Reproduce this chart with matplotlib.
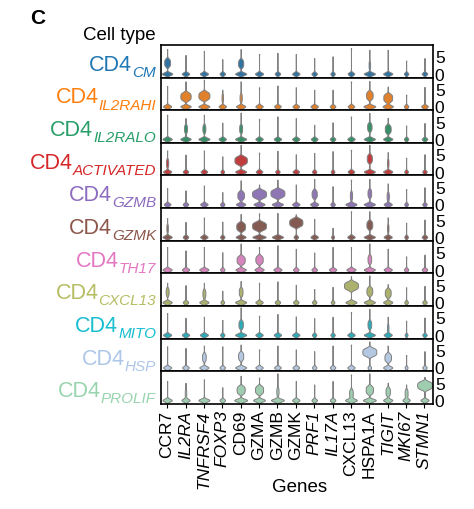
#!/usr/bin/env python

import colorsys

import matplotlib
matplotlib.use('Agg')
import matplotlib.colors as mcolors
import matplotlib.pyplot as plt
import numpy as np


GENES = ['CCR7', 'IL2RA', 'TNFRSF4', 'FOXP3', 'CD69', 'GZMA', 'GZMB',
         'GZMK', 'PRF1', 'IL17A', 'CXCL13', 'HSPA1A', 'TIGIT', 'MKI67',
         'STMN1']
ITALIC_GENES = ['IL2RA', 'TNFRSF4', 'FOXP3', 'PRF1', 'IL17A', 'TIGIT',
                'MKI67', 'STMN1']
CELL_TYPES = ['CM', 'IL2RAHI', 'IL2RALO', 'ACTIVATED', 'GZMB', 'GZMK',
              'TH17', 'CXCL13', 'MITO', 'HSP', 'PROLIF']
COLORS = ['#1f77b4', '#ff7f0e', '#279e68', '#d62728', '#8c6bc0', '#8c564b',
          '#e377c2', '#b5bd61', '#17becf', '#aec7e8', '#98d4ae']

# max expression per cell type (rows) and gene (columns)
TOP = [
    [7.1, 5.4, 6.6, 4.2, 7.1, 5.7, 6.0, 5.7, 4.5, 5.0, 7.4, 6.9, 6.9, 3.8, 4.5],
    [5.9, 7.2, 7.7, 4.8, 7.2, 5.5, 6.0, 5.5, 4.8, 4.8, 7.2, 7.3, 5.7, 3.4, 5.6],
    [7.0, 6.0, 7.0, 4.7, 7.6, 5.8, 6.5, 6.0, 4.1, 4.8, 6.5, 7.5, 6.1, 3.9, 4.6],
    [6.1, 4.9, 6.1, 4.4, 7.7, 5.5, 6.0, 5.0, 5.4, 5.9, 6.3, 7.7, 5.6, 4.0, 5.0],
    [4.7, 4.0, 5.4, 3.5, 6.9, 5.7, 7.1, 5.7, 7.3, 5.2, 7.1, 7.3, 6.0, 4.4, 4.9],
    [5.4, 4.3, 5.6, 4.4, 6.6, 6.8, 6.9, 6.5, 5.2, 2.6, 7.4, 7.4, 5.6, 4.1, 5.0],
    [6.5, 5.5, 6.5, 5.0, 7.5, 6.5, 7.0, 6.0, 4.9, 6.5, 6.5, 7.5, 6.0, 3.8, 4.3],
    [5.6, 4.9, 5.6, 3.3, 6.1, 5.6, 6.0, 5.0, 3.8, 4.4, 7.5, 7.7, 5.2, 4.3, 4.7],
    [6.3, 4.9, 5.2, 4.3, 7.9, 5.5, 6.0, 5.3, 4.8, 5.2, 6.6, 7.5, 5.2, 4.1, 5.0],
    [6.1, 5.6, 6.3, 6.1, 6.6, 5.2, 6.3, 5.2, 4.7, 6.3, 6.6, 7.5, 6.3, 3.6, 4.7],
    [5.5, 5.0, 6.0, 3.7, 7.0, 6.5, 7.7, 5.5, 4.5, 5.5, 7.4, 7.7, 5.0, 4.5, 6.7],
]

# half width of the bulge at zero
ZERO_W = [
    [.28, .20, .22, .15, .30, .22, .15, .20, .15, .12, .18, .30, .25, .12, .15],
    [.22, .28, .30, .20, .25, .20, .18, .18, .20, .15, .18, .32, .28, .12, .18],
    [.25, .28, .30, .20, .30, .20, .20, .20, .18, .15, .20, .30, .25, .12, .15],
    [.22, .15, .18, .10, .30, .18, .12, .18, .12, .10, .18, .30, .25, .10, .12],
    [.18, .15, .20, .12, .25, .30, .30, .20, .22, .12, .30, .30, .22, .10, .12],
    [.25, .15, .20, .12, .27, .36, .30, .12, .20, .08, .20, .30, .22, .10, .15],
    [.25, .20, .25, .12, .28, .25, .22, .15, .15, .20, .25, .30, .22, .12, .15],
    [.25, .15, .25, .10, .30, .20, .15, .15, .12, .10, .30, .30, .25, .10, .12],
    [.22, .20, .22, .12, .30, .20, .20, .20, .12, .12, .20, .30, .22, .08, .12],
    [.22, .18, .25, .15, .30, .20, .18, .18, .12, .15, .20, .10, .25, .08, .12],
    [.25, .22, .30, .15, .35, .32, .35, .20, .15, .15, .32, .35, .25, .20, .22],
]

# centre of the expressing population (0 = none)
MID = [
    [3.2, 0, 0, 0, 3.0, 0, 0, 0, 0, 0, 0, 2.5, 0, 0, 0],
    [0, 2.9, 3.1, 2.5, 2.5, 0, 0, 0, 0, 0, 0, 3.2, 2.5, 0, 0],
    [0, 3.0, 3.0, 0, 3.0, 0, 0, 0, 0, 0, 0, 3.5, 2.9, 0, 0],
    [2.5, 0, 0, 0, 3.3, 0, 0, 0, 0, 0, 0, 3.8, 2.5, 0, 0],
    [0, 0, 0, 0, 2.6, 3.0, 3.2, 0, 3.0, 0, 2.5, 3.2, 2.3, 0, 0],
    [2.5, 0, 0, 0, 3.0, 3.2, 0, 4.2, 0, 0, 0, 3.5, 2.5, 0, 0],
    [0, 0, 0, 0, 2.8, 2.9, 0, 0, 0, 0, 0, 3.0, 0, 0, 0],
    [3.0, 0, 2.5, 0, 3.0, 0, 0, 0, 0, 0, 4.8, 3.2, 2.7, 0, 0],
    [0, 0, 0, 0, 3.0, 0, 0, 0, 0, 0, 0, 3.0, 2.0, 0, 0],
    [0, 0, 3.0, 0, 3.3, 0, 0, 0, 0, 0, 0, 4.5, 2.9, 0, 0],
    [0, 2.0, 0, 0, 3.0, 3.0, 2.5, 0, 0, 0, 2.0, 3.0, 2.5, 2.0, 4.3],
]

# half width of the expressing population bulge
MID_W = [
    [.16, 0, 0, 0, .14, 0, 0, 0, 0, 0, 0, .05, 0, 0, 0],
    [0, .27, .30, .04, .06, 0, 0, 0, 0, 0, 0, .18, .25, 0, 0],
    [0, .08, .08, 0, .08, 0, 0, 0, 0, 0, 0, .12, .16, 0, 0],
    [.06, 0, 0, 0, .34, 0, 0, 0, 0, 0, 0, .14, .05, 0, 0],
    [0, 0, 0, 0, .18, .38, .38, 0, .14, 0, .06, .10, .06, 0, 0],
    [.05, 0, 0, 0, .25, .38, 0, .36, 0, 0, 0, .15, .05, 0, 0],
    [0, 0, 0, 0, .22, .20, 0, 0, 0, 0, 0, .10, 0, 0, 0],
    [.07, 0, .08, 0, .10, 0, 0, 0, 0, 0, .38, .15, .15, 0, 0],
    [0, 0, 0, 0, .12, 0, 0, 0, 0, 0, 0, .10, .05, 0, 0],
    [0, 0, .10, 0, .14, 0, 0, 0, 0, 0, 0, .38, .18, 0, 0],
    [0, .05, 0, 0, .22, .22, .06, 0, 0, 0, .10, .20, .12, .08, .40],
]

BW = 0.4


def desaturate(color, prop):
    r, g, b = mcolors.to_rgb(color)
    h, l, s = colorsys.rgb_to_hls(r, g, b)
    return colorsys.hls_to_rgb(h, l, s * prop)


def samples(top, zero_w, mid, mid_w):
    vals = [-1.0] + [0.0] * int(round(zero_w * 100))
    if mid_w > 0:
        vals += list(np.repeat(np.linspace(mid - 1, mid + 1, 5),
                               int(round(mid_w * 50))))
    vals.append(top)
    return vals


def main():
    plt.rcParams['font.family'] = 'Liberation Sans'

    fig, axes = plt.subplots(len(CELL_TYPES), 1, sharex=True,
                             figsize=(4.74, 5.10), dpi=100,
                             gridspec_kw={'hspace': 0})
    fig.subplots_adjust(left=0.339, right=0.913, top=0.910, bottom=0.206)

    x = np.arange(len(GENES))
    for i, ax in enumerate(axes):
        data = [samples(t, z, m, w) for t, z, m, w in
                zip(TOP[i], ZERO_W[i], MID[i], MID_W[i])]
        widths = [2 * max(z, w) for z, w in zip(ZERO_W[i], MID_W[i])]
        parts = ax.violinplot(
                data, positions=x, widths=widths, showextrema=False,
                points=300,
                bw_method=lambda k: BW / np.std(k.dataset, ddof=1),
            )
        fill = desaturate(COLORS[i], 0.75)
        for body in parts['bodies']:
            body.set_facecolor(fill)
            body.set_edgecolor('#808080')
            body.set_linewidth(0.7)
            body.set_alpha(1)

        ax.set_ylim(-1.1, 8.3)
        ax.set_yticks([0, 5])
        ax.yaxis.tick_right()
        ax.tick_params(axis='y', length=0, pad=1.5, labelsize=12.5)
        ax.tick_params(axis='x', length=0)
        for sp in ax.spines.values():
            sp.set_linewidth(1.2)

        sub = ax.text(-0.017, 0.05, CELL_TYPES[i], transform=ax.transAxes,
                      ha='right', va='baseline', fontsize=11,
                      style='italic', color=COLORS[i])
        ax.annotate('CD4', xy=(0, 0.236), xycoords=(sub, 'axes fraction'),
                    ha='right', va='baseline', fontsize=15.5,
                    color=COLORS[i])

    ax = axes[-1]
    ax.set_xlim(-0.35, 14.45)
    ax.set_xticks(x)
    ax.set_xticklabels(GENES, rotation=90, fontsize=12.5)
    for lbl in ax.get_xticklabels():
        if lbl.get_text() in ITALIC_GENES:
            lbl.set_style('italic')
    ax.tick_params(axis='x', length=3, width=0.8, pad=1)

    fig.text(0.063, 0.964, 'C', fontsize=15, fontweight='bold',
             ha='left', va='center')
    fig.text(0.329, 0.931, 'Cell type', fontsize=13.5, ha='right',
             va='center')
    fig.text(0.631, 0.045, 'Genes', fontsize=13.5, ha='center',
             va='center')

    fig.savefig('out.png', dpi=100)


if __name__ == "__main__":
    main()
